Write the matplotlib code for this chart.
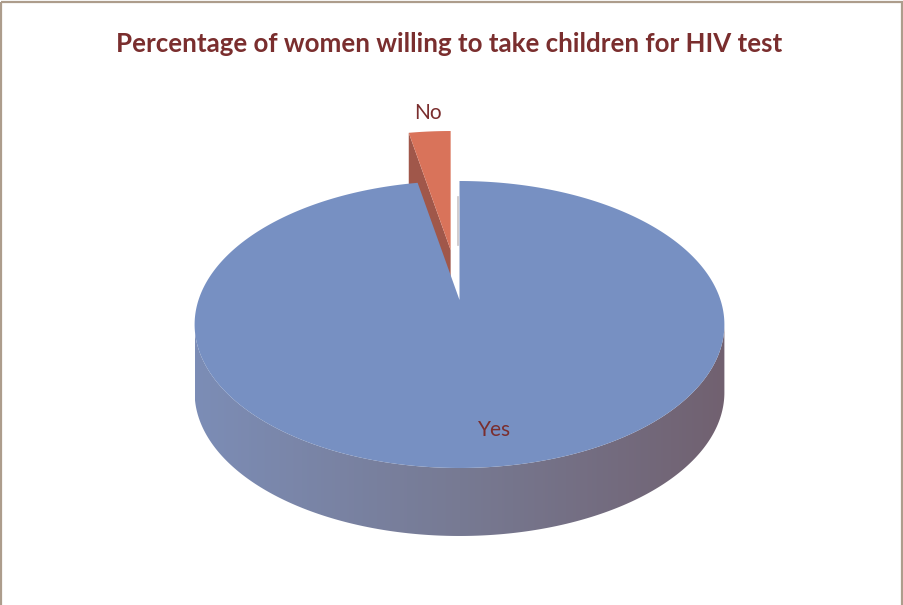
import numpy as np
import matplotlib.pyplot as plt
from matplotlib.patches import Polygon, Rectangle
from matplotlib.colors import LinearSegmentedColormap

# ---------------------------------------------------------------
# data
# ---------------------------------------------------------------
labels = ['Yes', 'No']
values = [97, 3]
title = 'Percentage of women willing to take children for HIV test'

# ---------------------------------------------------------------
# style / geometry (pixel space, y down)
# ---------------------------------------------------------------
W, H = 904, 605
CX, CY = 459.5, 300.0          # projected pie centre
RX, RY, K = 261.0, 88.1, 0.1707  # simple perspective of the disc
DEPTH = 68
EXPLODE = [0.0, 0.384]           # radial pull-out on the disc
TOP_COLORS = ['#7790C2', '#D9735A']
NO_SIDE = '#A0574A'
TXT = '#7A2E2E'


def proj(u, v):
    w = 1 + K * v
    return CX + RX * u / w, (CY - RY * v) / w


fig = plt.figure(figsize=(W / 100, H / 100), dpi=100)
ax = fig.add_axes([0, 0, 1, 1])
ax.set_xlim(0, W)
ax.set_ylim(H, 0)
ax.axis('off')

# slice angles: Excel starts at 12 o'clock and goes clockwise
fracs = np.array(values, dtype=float) / sum(values)
starts = 90 - np.concatenate([[0], np.cumsum(fracs)[:-1]]) * 360
spans = fracs * 360

# ---------------------------------------------------------------
# No slice (pulled out, sits behind the Yes slice)
# ---------------------------------------------------------------
i = 1
a0, a1 = starts[i] - spans[i], starts[i]      # ccw range
mid = np.radians((a0 + a1) / 2)
ox, oy = proj(EXPLODE[i] * np.cos(mid), EXPLODE[i] * np.sin(mid))
ox, oy = ox - CX, oy - CY
th = np.radians(np.linspace(a0, a1, 40))
ax_, ay_ = proj(np.cos(th), np.sin(th))
apx, apy = CX + ox, CY + oy
# visible radial face at the ccw edge
px, py = ax_[-1] + ox, ay_[-1] + oy
ax.add_patch(Polygon([(apx, apy), (px, py), (px, py + DEPTH), (apx, apy + DEPTH)],
                     closed=True, facecolor=NO_SIDE, edgecolor='none'))
ax.add_patch(Polygon(np.column_stack([np.r_[apx, ax_ + ox], np.r_[apy, ay_ + oy]]),
                     closed=True, facecolor=TOP_COLORS[i], edgecolor='none'))

# ---------------------------------------------------------------
# Yes slice: front wall with gradient, then top face
# ---------------------------------------------------------------
full = np.radians(np.linspace(0, 360, 1441))
fx, fy = proj(np.cos(full), np.sin(full))
tl, tr = full[np.argmin(fx)], full[np.argmax(fx)]
if tr < tl:
    tr += 2 * np.pi
front = np.linspace(tl, tr, 400)
tx, ty = proj(np.cos(front), np.sin(front))
wall = np.column_stack([np.r_[tx, tx[::-1]], np.r_[ty, ty[::-1] + DEPTH]])
wall_patch = Polygon(wall, closed=True, facecolor='none', edgecolor='none')
ax.add_patch(wall_patch)
cmap = LinearSegmentedColormap.from_list('wall', ['#7C8DB6', '#777A93', '#716170'])
grad = np.linspace(0, 1, 256)[None, :]
im = ax.imshow(grad, cmap=cmap, aspect='auto',
               extent=[tx.min(), tx.max(), ty.max() + DEPTH, ty.min()])
im.set_clip_path(wall_patch)

i = 0
th = np.radians(np.linspace(starts[i] - spans[i], starts[i], 600))
yx, yy = proj(np.cos(th), np.sin(th))
ax.add_patch(Polygon(np.column_stack([np.r_[CX, yx], np.r_[CY, yy]]),
                     closed=True, facecolor=TOP_COLORS[i], edgecolor='none'))
# thin edge of the Yes cut face seen in the gap
ax.plot([CX - 1.5, CX - 1.5], [197, 245], color='#C9C3C6', lw=1.2)

# ---------------------------------------------------------------
# labels, title, frame
# ---------------------------------------------------------------
ax.text(428, 113, labels[1], ha='center', va='center', fontsize=15,
        family='Lato', color=TXT)
ax.text(495, 430, labels[0], ha='center', va='center', fontsize=15,
        family='Lato', color=TXT)
ax.text(449, 44, title, ha='center', va='center', fontsize=18.6,
        family='Lato', fontweight='bold', color=TXT)

ax.add_patch(Rectangle((1.5, 1.5), W - 3.5, H + 20, facecolor='none',
                       edgecolor='#AD9D8C', linewidth=1.6, clip_on=False))

fig.savefig('out.png', dpi=100)
